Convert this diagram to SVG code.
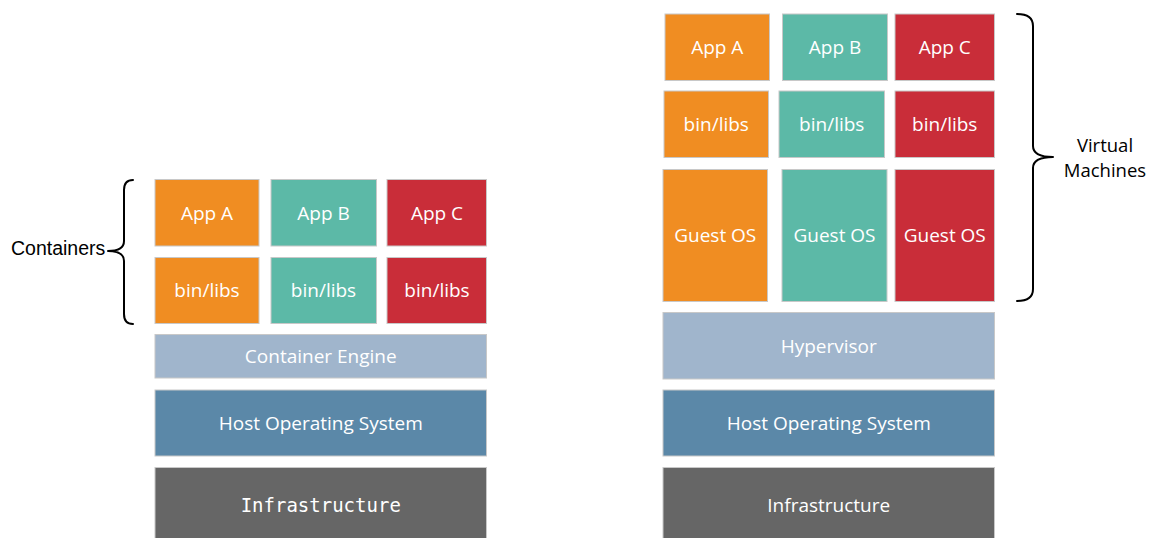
<svg xmlns="http://www.w3.org/2000/svg" width="1155" height="538" viewBox="0 0 1155 538">
  <style>
    .box { stroke: #c8c8c8; stroke-width: 1; }
    .orange { fill: #f08d22; }
    .teal { fill: #5cb9a7; }
    .red { fill: #c92d39; }
    .engine { fill: #a0b5cc; }
    .host { fill: #5b88a8; }
    .infra { fill: #666666; }
    .lbl { font-family: "Open Sans", "Noto Sans", sans-serif; font-size: 19px; fill: #ffffff; text-anchor: middle; }
    .mono { font-family: "DejaVu Sans Mono", "Liberation Mono", monospace; font-size: 19px; fill: #ffffff; text-anchor: middle; }
    .side { font-family: "Liberation Sans", Arial, sans-serif; font-size: 19.5px; fill: #000000; }
    .side2 { font-family: "Open Sans", "Noto Sans", sans-serif; font-size: 18.5px; fill: #000000; text-anchor: middle; }
    .brace { fill: none; stroke: #000000; stroke-width: 2; stroke-linecap: round; stroke-linejoin: round; }
  </style>
  <rect width="1155" height="538" fill="#ffffff"/>

  <!-- Container stack -->
  <g id="c-app-a"><rect class="box orange" x="155" y="179.5" width="104" height="66.5"/><text class="lbl" x="207" y="219.5">App A</text></g>
  <g id="c-app-b"><rect class="box teal" x="271" y="179.5" width="105.5" height="66.5"/><text class="lbl" x="323.5" y="219.5">App B</text></g>
  <g id="c-app-c"><rect class="box red" x="387" y="179.5" width="99.5" height="66.5"/><text class="lbl" x="437" y="219.5">App C</text></g>
  <g id="c-bin-a"><rect class="box orange" x="155" y="257.5" width="104" height="66"/><text class="lbl" x="207" y="297">bin/libs</text></g>
  <g id="c-bin-b"><rect class="box teal" x="271" y="257.5" width="105.5" height="66"/><text class="lbl" x="323.5" y="297">bin/libs</text></g>
  <g id="c-bin-c"><rect class="box red" x="387" y="257.5" width="99.5" height="66"/><text class="lbl" x="437" y="297">bin/libs</text></g>
  <g id="c-engine"><rect class="box engine" x="155" y="334.5" width="331.5" height="43.5"/><text class="lbl" x="320.75" y="363">Container Engine</text></g>
  <g id="c-host"><rect class="box host" x="155" y="390" width="331.5" height="66"/><text class="lbl" x="320.75" y="429.5">Host Operating System</text></g>
  <g id="c-infra"><rect class="box infra" x="155" y="467.5" width="331.5" height="72"/><text class="mono" x="320.75" y="512">Infrastructure</text></g>

  <!-- Virtual machine stack -->
  <g id="v-app-a"><rect class="box orange" x="665" y="14" width="104.5" height="66.5"/><text class="lbl" x="717.25" y="54">App A</text></g>
  <g id="v-app-b"><rect class="box teal" x="782.5" y="14" width="105" height="66.5"/><text class="lbl" x="835" y="54">App B</text></g>
  <g id="v-app-c"><rect class="box red" x="895" y="14" width="99.5" height="66.5"/><text class="lbl" x="944.75" y="54">App C</text></g>
  <g id="v-bin-a"><rect class="box orange" x="664" y="91" width="104.5" height="66.5"/><text class="lbl" x="716.25" y="131">bin/libs</text></g>
  <g id="v-bin-b"><rect class="box teal" x="779" y="91" width="105.5" height="66.5"/><text class="lbl" x="831.75" y="131">bin/libs</text></g>
  <g id="v-bin-c"><rect class="box red" x="895" y="91" width="99.5" height="66.5"/><text class="lbl" x="944.75" y="131">bin/libs</text></g>
  <g id="v-os-a"><rect class="box orange" x="663" y="169.5" width="104.5" height="132"/><text class="lbl" x="715.25" y="242">Guest OS</text></g>
  <g id="v-os-b"><rect class="box teal" x="782" y="169.5" width="105" height="132"/><text class="lbl" x="834.5" y="242">Guest OS</text></g>
  <g id="v-os-c"><rect class="box red" x="895" y="169.5" width="99.5" height="132"/><text class="lbl" x="944.75" y="242">Guest OS</text></g>
  <g id="v-hypervisor"><rect class="box engine" x="663" y="312.5" width="331.5" height="66.5"/><text class="lbl" x="828.75" y="352.5">Hypervisor</text></g>
  <g id="v-host"><rect class="box host" x="663" y="390" width="331.5" height="66"/><text class="lbl" x="828.75" y="429.5">Host Operating System</text></g>
  <g id="v-infra"><rect class="box infra" x="663" y="467.5" width="331.5" height="72"/><text class="lbl" x="828.75" y="512">Infrastructure</text></g>

  <!-- Group braces and their labels -->
  <g id="connectors">
    <path class="brace" d="M133,180 Q124,180 124,190 L124,241 Q124,251 108,251 Q124,251 124,261 L124,314 Q124,324 133,324"/>
    <path class="brace" d="M1017,14 Q1033,14 1033,26 L1033,146 Q1033,157 1053,157 Q1033,157 1033,168 L1033,289 Q1033,301 1017,301"/>
  </g>
  <g id="label-containers"><text class="side" x="11" y="255">Containers</text></g>
  <g id="label-vms">
    <text class="side2" x="1105" y="152">Virtual</text>
    <text class="side2" x="1105" y="177">Machines</text>
  </g>
</svg>
